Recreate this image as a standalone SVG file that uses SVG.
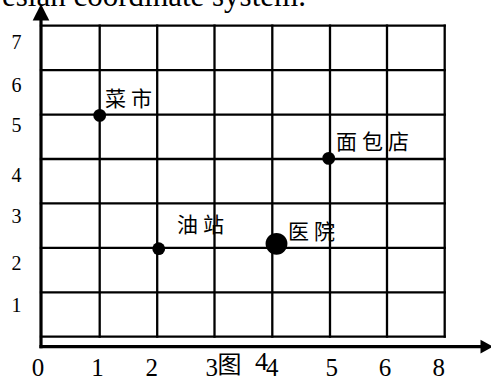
<svg xmlns="http://www.w3.org/2000/svg" width="491" height="378" viewBox="0 0 491 378">
<style>
.bg{fill:#fff}
.grid{stroke:#000;stroke-width:2.3;fill:none;stroke-linecap:square}
.axis{stroke:#000;stroke-width:3.2;fill:none}
.head{fill:#000}
.dot{fill:#000}
.num{font-family:"Liberation Serif","Times New Roman",serif;fill:#000}
.yl{font-size:20px;text-anchor:middle}
.xl{font-size:25px;text-anchor:middle}
.cn{font-family:"Noto Sans CJK SC","Noto Sans CJK TC",sans-serif;font-size:21px;letter-spacing:5px;fill:#000}
.title{font-family:"Liberation Serif","Times New Roman",serif;font-size:31px;fill:#000}
</style>
<rect class="bg" x="0" y="0" width="491" height="378"/>
<text class="title" x="2" y="6">esian coordinate system.</text>
<g id="grid" class="grid">
<line x1="41" y1="25.7" x2="444.7" y2="25.7"/>
<line x1="41" y1="70.1" x2="444.7" y2="70.1"/>
<line x1="41" y1="114.6" x2="444.7" y2="114.6"/>
<line x1="41" y1="159" x2="444.7" y2="159"/>
<line x1="41" y1="203.4" x2="444.7" y2="203.4"/>
<line x1="41" y1="247.9" x2="444.7" y2="247.9"/>
<line x1="41" y1="292.3" x2="444.7" y2="292.3"/>
<line x1="41" y1="336.7" x2="444.7" y2="336.7"/>
<line x1="99.7" y1="25.7" x2="99.7" y2="336.7"/>
<line x1="157.2" y1="25.7" x2="157.2" y2="336.7"/>
<line x1="214.5" y1="25.7" x2="214.5" y2="336.7"/>
<line x1="272.3" y1="25.7" x2="272.3" y2="336.7"/>
<line x1="330" y1="25.7" x2="330" y2="336.7"/>
<line x1="387" y1="25.7" x2="387" y2="336.7"/>
<line x1="444.7" y1="25.7" x2="444.7" y2="336.7"/>
</g>
<g id="axes">
<line class="axis" x1="41" y1="348.3" x2="41" y2="19"/>
<polygon class="head" points="41,4 32.7,20.5 49.3,20.5"/>
<line class="axis" x1="39.4" y1="346.7" x2="482" y2="346.7"/>
<polygon class="head" points="493,346.7 480.5,339.8 480.5,353.6"/>
</g>
<g id="y-labels" class="num yl">
<text x="16.5" y="49">7</text>
<text x="16.5" y="91.5">6</text>
<text x="16.5" y="131.5">5</text>
<text x="16.5" y="181.5">4</text>
<text x="16.5" y="223">3</text>
<text x="16.5" y="270">2</text>
<text x="16.5" y="311.5">1</text>
</g>
<g id="x-labels" class="num xl">
<text x="38" y="376">0</text>
<text x="97.5" y="375.5">1</text>
<text x="151.7" y="375.5">2</text>
<text x="211.7" y="375.5">3</text>
<text x="272.3" y="375.5">4</text>
<text x="331.7" y="375.5">5</text>
<text x="385" y="375.5">6</text>
<text x="438.8" y="375.5">8</text>
</g>
<g id="caption">
<text x="217.5" y="373" font-family="'Noto Sans CJK SC',sans-serif" font-size="24" fill="#000">图</text>
<text x="255" y="369.5" class="num" font-size="26">4</text>
</g>
<g id="node-caishi">
<circle class="dot" cx="99.7" cy="115.4" r="6.4"/>
<text class="cn" x="105" y="105.5">菜市</text>
</g>
<g id="node-mianbaodian">
<circle class="dot" cx="328.7" cy="158.4" r="6.4"/>
<text class="cn" x="336" y="148.5">面包店</text>
</g>
<g id="node-youzhan">
<circle class="dot" cx="158.7" cy="248.7" r="6.4"/>
<text class="cn" x="177" y="231.5">油站</text>
</g>
<g id="node-yiyuan">
<circle class="dot" cx="276.5" cy="243.8" r="10.9"/>
<text class="cn" x="288" y="238.5">医院</text>
</g>
</svg>
